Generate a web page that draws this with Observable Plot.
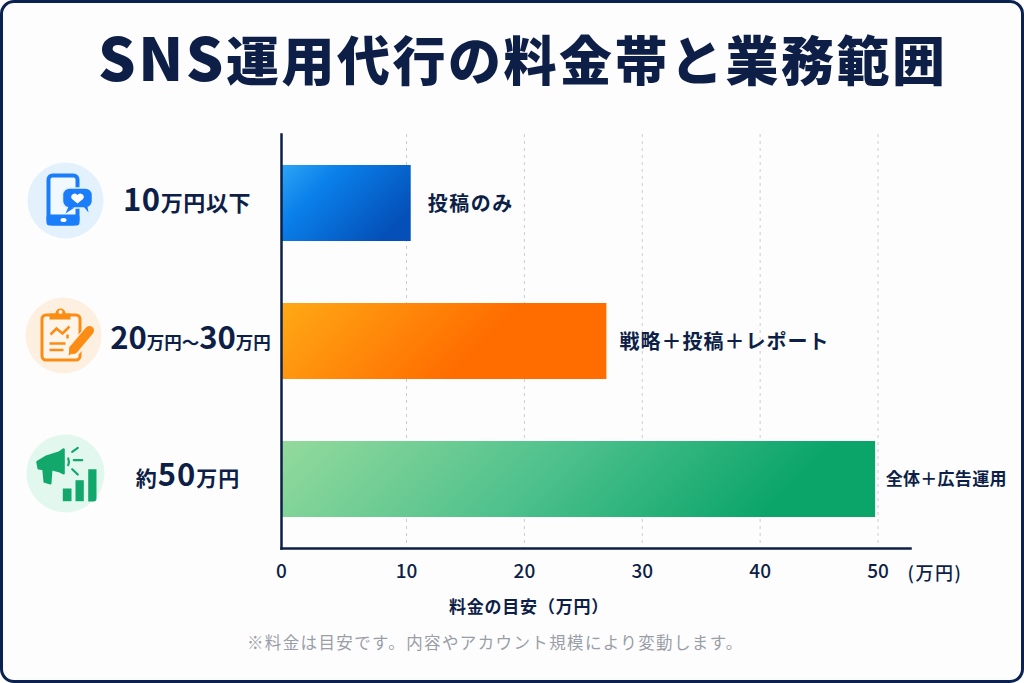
<!DOCTYPE html>
<html lang="ja"><head><meta charset="utf-8">
<script src="https://cdn.jsdelivr.net/npm/d3@7"></script>
<script src="https://cdn.jsdelivr.net/npm/@observablehq/plot@0.6"></script>
<style>
html,body{margin:0;padding:0;background:#fff;}
#page{position:relative;box-sizing:border-box;width:1024px;height:683px;border:3px solid #0b2150;border-radius:14px;background:#fdfdfe;overflow:hidden;font-family:"Noto Sans CJK JP",sans-serif;}
#title{position:absolute;left:95px;top:17px;font-size:53px;font-weight:900;color:#0e1f47;letter-spacing:2.5px;line-height:72px;white-space:nowrap;}
#title span{font-size:59px;letter-spacing:2.5px;}
#chart{position:absolute;left:-3px;top:111px;width:1024px;}
#chart svg{display:block;background:transparent;overflow:visible;max-width:none;}
#note{position:absolute;left:244px;top:628px;font-size:16.5px;color:#9a9ea6;letter-spacing:1.37px;line-height:22px;white-space:nowrap;}
</style></head><body>
<div id="page">
<div id="title"><span>SNS</span>運用代行の料金帯と業務範囲</div>
<div id="chart"></div>
<div id="note">※料金は目安です。内容やアカウント規模により変動します。</div>
</div>
<script>
const categories = ["10万円以下","20万円～30万円","約50万円"];
const values = [10.4, 27, 49.8];
const scopes = ["投稿のみ","戦略＋投稿＋レポート","全体＋広告運用"];
const ticks = [0,10,20,30,40,50];
const gradientStops = [
  [[0,"#2ea6f5"],[.35,"#0a80ea"],[1,"#0450b8"]],
  [[0,"#ffa915"],[.7,"#ff6d00"],[1,"#ff6d00"]],
  [[0,"#94da9c"],[.5,"#4cc08c"],[.92,"#0ba56a"],[1,"#0ba56a"]]
];
const gradientIds = ["barBlue","barOrange","barGreen"];
const gradientSlant = [.59,.234,.128];
const rows = categories.map((category,i)=>({category,value:values[i],scope:scopes[i]}));

const navy = "#0e1f47";
const icon = body => "data:image/svg+xml,"+encodeURIComponent(`<svg xmlns="http://www.w3.org/2000/svg" viewBox="0 0 80 80" width="80" height="80">${body}</svg>`);
const B="#1a7efb", O="#fb8c14", G="#12a86c";
const icons = [
 icon(`<circle cx="40" cy="40" r="38" fill="#e3f1fd"/>
  <rect x="23" y="15" width="29" height="48" rx="4" fill="#f1f8fe" stroke="${B}" stroke-width="4"/>
  <rect x="21" y="54" width="33" height="11" rx="3" fill="${B}"/><ellipse cx="38" cy="59.500" rx="3" ry="2" fill="#fff"/>
  <rect x="37" y="27.500" width="30" height="20" rx="7" fill="${B}" stroke="#e3f1fd" stroke-width="1.500"/>
  <path d="M43 46l-3 7 9-6zM58 46l5 6-1-6z" fill="${B}"/>
  <path d="M52 43l-5.500-4.500a3 3 0 0 1 5.500-4a3 3 0 0 1 5.500 4z" fill="#fff"/>`),
 icon(`<circle cx="40" cy="40" r="38" fill="#fdf0e0"/>
  <rect x="18.500" y="19.500" width="38" height="45" rx="4" fill="#fdf4ea" stroke="${O}" stroke-width="3"/>
  <path d="M26 24v-6h6a5 5 0 0 1 10 0h5v6z" fill="${O}"/><circle cx="37" cy="16.500" r="2" fill="#fdf0e0"/>
  <path d="M27 39l6-6 6 5 7-7" fill="none" stroke="${O}" stroke-width="2.500"/>
  <path d="M26 48h16M26 54.500h14" fill="none" stroke="${O}" stroke-width="2.500"/>
  <path d="M44 39v4" fill="none" stroke="${O}" stroke-width="2.500"/>
  <path d="M50 55l18-21" stroke="#fdf0e0" stroke-width="13" fill="none"/>
  <path d="M50 54l16-19" stroke="${O}" stroke-width="9" fill="none" stroke-linecap="round"/>
  <path d="M46.500 50l6.500 6-8 4z" fill="${O}"/>`),
 icon(`<circle cx="40" cy="40" r="39" fill="#e2f8ef"/>
  <path d="M11.700 28.300 20 23.300 33.300 19 38.300 15.700V40L33.300 37.700 26 35.700 25 50 19 48.300 17.700 35.700 13 35z" fill="${G}" stroke="${G}" stroke-width="2" stroke-linejoin="round"/>
  <path d="M46.700 18.300l5.600-4M48.300 26.700h8.400M46.700 35.700l5.600 5.300M42.700 25q1.500 3.300 0 6.700" stroke="${G}" stroke-width="2.200" fill="none" stroke-linecap="round"/>
  <rect x="37.300" y="55" width="8.700" height="12.700" fill="${G}"/><rect x="50" y="46.700" width="8.300" height="21" fill="${G}"/><path d="M62.700 35.700H71V65a3 3 0 0 1-3 3h-5.300z" fill="${G}"/>`)
];
const iconOffsets = [[-216,-3],[-218,-6],[-216,-6]];
const labelOffsets = [[-94.500,4.500],[-91,4.500],[-93.500,3.500]];
const labelSizes = [[31,22],[31,17.500],[31,21]];
const labelSpacing = [.6,0,1];
const scopeOffsets = [[16.600,1],[12.600,1],[10,0]];
const scopeSizes = [20,20,17];
const scopeSpacing = [1.500,1,.3];

const spaced = px => (index, scales, vals, dims, ctx, next) => {
  const g = next(index, scales, vals, dims, ctx);
  g.querySelectorAll("text").forEach(t=>t.style.letterSpacing=px+"px");
  return g;
};
const bigDigits = ([big,small],px) => (index, scales, vals, dims, ctx, next) => {
  const g = next(index, scales, vals, dims, ctx);
  g.querySelectorAll("text").forEach(t=>{
    const s = t.textContent; t.textContent="";
    t.style.letterSpacing=px+"px";
    s.split(/(\d+)/).filter(Boolean).forEach(part=>{
      const ts = document.createElementNS("http://www.w3.org/2000/svg","tspan");
      ts.textContent = part;
      ts.setAttribute("font-size", /\d/.test(part) ? big : small);
      t.appendChild(ts);
    });
  });
  return g;
};

const defs = () => {
  const ns="http://www.w3.org/2000/svg";
  const d=document.createElementNS(ns,"defs");
  gradientIds.forEach((id,i)=>{
    const g=document.createElementNS(ns,"linearGradient");
    g.setAttribute("id",id);g.setAttribute("x1","0");g.setAttribute("y1","0");g.setAttribute("x2","1");g.setAttribute("y2",gradientSlant[i]);
    gradientStops[i].forEach(([o,c])=>{const s=document.createElementNS(ns,"stop");s.setAttribute("offset",o);s.setAttribute("stop-color",c);g.appendChild(s);});
    d.appendChild(g);
  });
  return d;
};

const xEnd = 52.76;
const plot = Plot.plot({
  width:1024,height:511,marginLeft:281,marginRight:114,marginTop:20,marginBottom:77,
  style:{background:"transparent",fontFamily:'"Noto Sans CJK JP",sans-serif',color:navy,overflow:"visible",maxWidth:"none"},
  x:{type:"linear",domain:[0,10,50,xEnd],range:[281,406,877.5,910],label:null},
  y:{domain:categories,paddingInner:0.45,paddingOuter:0.225,axis:null,label:null},
  color:{domain:categories,range:gradientIds.map(id=>`url(#${id})`)},
  marks:[
    defs,
    Plot.ruleX(ticks.slice(1),{stroke:"#c9ccd2",strokeWidth:1,strokeDasharray:"3,4"}),
    Plot.barX(rows,{y:"category",x:"value",fill:"category"}),
    Plot.frame({anchor:"left",stroke:navy,strokeWidth:2.5}),
    Plot.frame({anchor:"bottom",stroke:navy,strokeWidth:2.5}),
    Plot.axisX({ticks,tickSize:0,tickPadding:16,fontSize:19,fontWeight:500,label:null,fill:navy}),
    ...rows.map((r,i)=>Plot.image([r],{x:()=>0,y:"category",src:()=>icons[i],width:80,height:80,dx:iconOffsets[i][0],dy:iconOffsets[i][1]})),
    ...rows.map((r,i)=>Plot.text([r],{x:()=>0,y:"category",text:"category",dx:labelOffsets[i][0],dy:labelOffsets[i][1],fontWeight:700,fill:navy,lineAnchor:"middle",render:bigDigits(labelSizes[i],labelSpacing[i])})),
    ...rows.map((r,i)=>Plot.text([r],{x:"value",y:"category",text:"scope",textAnchor:"start",dx:scopeOffsets[i][0],dy:scopeOffsets[i][1],fontSize:scopeSizes[i],fontWeight:700,fill:navy,render:spaced(scopeSpacing[i])})),
    Plot.text(["(万円)"],{x:()=>xEnd,frameAnchor:"bottom",dy:31,textAnchor:"start",dx:-3,fontSize:18,fontWeight:500,fill:navy,render:spaced(1.500)}),
    Plot.text(["料金の目安（万円）"],{x:()=>20.39,frameAnchor:"bottom",dy:64,fontSize:17,fontWeight:700,fill:navy,render:spaced(.8)})
  ]
});
document.getElementById("chart").appendChild(plot);
</script>
</body></html>
